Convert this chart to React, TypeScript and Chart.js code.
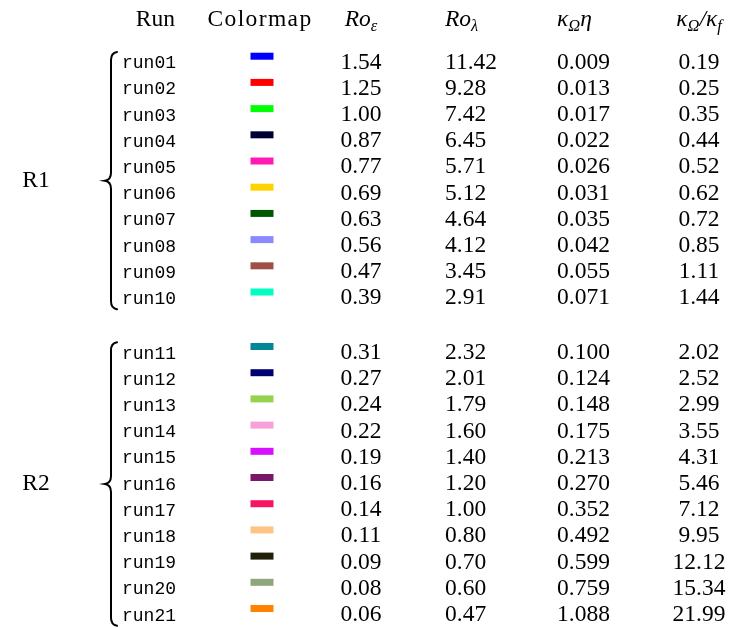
import React, { useEffect, useRef } from "react";
import { Chart, registerables } from "chart.js";

Chart.register(...registerables);

// ---------- data ----------
const runs = [
  "run01", "run02", "run03", "run04", "run05", "run06", "run07", "run08", "run09", "run10",
  "run11", "run12", "run13", "run14", "run15", "run16", "run17", "run18", "run19", "run20", "run21",
];
const colormap = [
  "#0000ff", "#ff0000", "#00ff00", "#000033", "#ff1ab3", "#ffd300", "#005700", "#8a8aff", "#9e4f46", "#00ffc1",
  "#008695", "#000075", "#95d34f", "#f6a1da", "#d60fff", "#7a1766", "#f71463", "#ffc387", "#20200a", "#8ea67b", "#ff8200",
];
const roEps = [
  "1.54", "1.25", "1.00", "0.87", "0.77", "0.69", "0.63", "0.56", "0.47", "0.39",
  "0.31", "0.27", "0.24", "0.22", "0.19", "0.16", "0.14", "0.11", "0.09", "0.08", "0.06",
];
const roLambda = [
  "11.42", "9.28", "7.42", "6.45", "5.71", "5.12", "4.64", "4.12", "3.45", "2.91",
  "2.32", "2.01", "1.79", "1.60", "1.40", "1.20", "1.00", "0.80", "0.70", "0.60", "0.47",
];
const kappaEta = [
  "0.009", "0.013", "0.017", "0.022", "0.026", "0.031", "0.035", "0.042", "0.055", "0.071",
  "0.100", "0.124", "0.148", "0.175", "0.213", "0.270", "0.352", "0.492", "0.599", "0.759", "1.088",
];
const kappaRatio = [
  "0.19", "0.25", "0.35", "0.44", "0.52", "0.62", "0.72", "0.85", "1.11", "1.44",
  "2.02", "2.52", "2.99", "3.55", "4.31", "5.46", "7.12", "9.95", "12.12", "15.34", "21.99",
];
const groups = ["R1", "R2"];
const groupSizes = [10, 11];

// ---------- layout (not data) ----------
const W = 739;
const H = 628;
const ROW_STEP = 26.2; // px per row unit
const ROW0_PX = 62.5; // pixel centre of first row
const GROUP_GAP = 1.08; // extra row units between groups
const HEADER_ROW = -1.62;
const SWATCH_SHIFT = -0.24;
const COL = {
  group: 36,
  braceX: 111,
  runRight: 175,
  runLeft: 122,
  colormap: 262,
  roEps: 361,
  roLambdaLeft: 445,
  kappaEtaLeft: 557,
  kappaRatio: 699,
};
const SERIF = "'Liberation Serif', 'Times New Roman', serif";
const MONO = "'Liberation Mono', 'DejaVu Sans Mono', monospace";
const FS = 23.5;

// row position of each run (in row units)
const rowPos: number[] = [];
{
  let offset = 0;
  let idx = 0;
  groupSizes.forEach((n) => {
    for (let k = 0; k < n; k++) rowPos.push(idx + k + offset);
    idx += n;
    offset += GROUP_GAP;
  });
}

type Seg = { t: string; italic?: boolean; sub?: boolean };

function segFont(s: Seg) {
  const size = s.sub ? FS * 0.7 : FS;
  return `${s.italic ? "italic " : ""}${size}px ${SERIF}`;
}

function drawMath(ctx: CanvasRenderingContext2D, segs: Seg[], x: number, y: number, align: "left" | "center") {
  let total = 0;
  const widths = segs.map((s) => {
    ctx.font = segFont(s);
    const w = ctx.measureText(s.t).width;
    total += w;
    return w;
  });
  let cx = align === "center" ? x - total / 2 : x;
  ctx.textAlign = "left";
  segs.forEach((s, i) => {
    ctx.font = segFont(s);
    ctx.fillText(s.t, cx, s.sub ? y + FS * 0.28 : y);
    cx += widths[i];
  });
}

function drawBrace(ctx: CanvasRenderingContext2D, x: number, top: number, bottom: number) {
  const mid = (top + bottom) / 2;
  ctx.save();
  ctx.strokeStyle = "#000";
  ctx.lineWidth = 2;
  ctx.lineCap = "round";
  ctx.beginPath();
  ctx.moveTo(x + 6, top);
  ctx.quadraticCurveTo(x, top + 1, x, top + 8);
  ctx.lineTo(x, mid - 8);
  ctx.quadraticCurveTo(x, mid - 1, x - 6, mid);
  ctx.quadraticCurveTo(x, mid + 1, x, mid + 8);
  ctx.lineTo(x, bottom - 8);
  ctx.quadraticCurveTo(x, bottom - 1, x + 6, bottom);
  ctx.stroke();
  ctx.restore();
}

const tablePlugin = {
  id: "tableText",
  afterDatasetsDraw(chart: any) {
    const ctx: CanvasRenderingContext2D = chart.ctx;
    const xs = chart.scales.x;
    const ys = chart.scales.y;
    const px = (v: number) => xs.getPixelForValue(v);
    const py = (v: number) => ys.getPixelForValue(v);
    ctx.save();
    ctx.fillStyle = "#000";
    ctx.textBaseline = "middle";

    // header
    const hy = py(HEADER_ROW);
    ctx.font = `${FS}px ${SERIF}`;
    ctx.textAlign = "right";
    ctx.fillText("Run", px(COL.runRight), hy);
    ctx.textAlign = "center";
    (ctx as any).letterSpacing = "1.4px";
    ctx.fillText("Colormap", px(COL.colormap) - 2, hy);
    (ctx as any).letterSpacing = "0px";
    drawMath(ctx, [{ t: "Ro", italic: true }, { t: "ε", italic: true, sub: true }], px(COL.roEps), hy, "center");
    drawMath(ctx, [{ t: "Ro", italic: true }, { t: "λ", italic: true, sub: true }], px(COL.roLambdaLeft), hy, "left");
    drawMath(
      ctx,
      [{ t: "κ", italic: true }, { t: "Ω", italic: true, sub: true }, { t: "η", italic: true }],
      px(COL.kappaEtaLeft),
      hy,
      "left"
    );
    drawMath(
      ctx,
      [
        { t: "κ", italic: true },
        { t: "Ω", italic: true, sub: true },
        { t: "/κ", italic: true },
        { t: "f", italic: true, sub: true },
      ],
      px(COL.kappaRatio),
      hy,
      "center"
    );

    // rows
    runs.forEach((r, i) => {
      const y = py(rowPos[i]);
      ctx.font = `${18}px ${MONO}`;
      ctx.textAlign = "left";
      ctx.fillText(r, px(COL.runLeft), y + 1);
      ctx.font = `${FS}px ${SERIF}`;
      ctx.textAlign = "center";
      ctx.fillText(roEps[i], px(COL.roEps), y);
      ctx.textAlign = "left";
      ctx.fillText(roLambda[i], px(COL.roLambdaLeft), y);
      ctx.fillText(kappaEta[i], px(COL.kappaEtaLeft), y);
      ctx.textAlign = "center";
      ctx.fillText(kappaRatio[i], px(COL.kappaRatio), y);
    });

    // groups + braces
    let start = 0;
    groups.forEach((g, gi) => {
      const n = groupSizes[gi];
      const first = rowPos[start];
      const last = rowPos[start + n - 1];
      const top = py(first - 0.4);
      const bottom = py(last + 0.42);
      drawBrace(ctx, px(COL.braceX), top, bottom);
      ctx.font = `${FS}px ${SERIF}`;
      ctx.textAlign = "center";
      ctx.fillText(g, px(COL.group), py((first + last) / 2));
      start += n;
    });
    ctx.restore();
  },
};

export default function App() {
  const ref = useRef<HTMLCanvasElement | null>(null);
  useEffect(() => {
    document.body.style.margin = "0";
    if (!ref.current) return;
    const chart = new Chart(ref.current, {
      type: "scatter",
      data: {
        datasets: [
          {
            label: "Colormap",
            data: runs.map((_, i) => ({ x: COL.colormap, y: rowPos[i] + SWATCH_SHIFT })),
            pointStyle: "line",
            pointRadius: 11.5,
            pointHoverRadius: 11.5,
            pointBorderWidth: 7,
            pointHoverBorderWidth: 7,
            pointBorderColor: colormap,
            pointBackgroundColor: colormap,
            borderColor: colormap,
            backgroundColor: colormap,
            showLine: false,
          } as any,
        ],
      },
      options: {
        responsive: false,
        animation: false,
        events: [],
        layout: { padding: 0, autoPadding: false },
        plugins: { legend: { display: false }, tooltip: { enabled: false } },
        scales: {
          x: { type: "linear", display: false, min: 0, max: W },
          y: {
            type: "linear",
            display: false,
            reverse: true,
            min: -ROW0_PX / ROW_STEP,
            max: (H - ROW0_PX) / ROW_STEP,
          },
        },
      },
      plugins: [tablePlugin],
    });
    return () => chart.destroy();
  }, []);
  return (
    <div style={{ width: W, height: H, background: "#fff" }}>
      <canvas ref={ref} width={W} height={H} style={{ display: "block" }} />
    </div>
  );
}
